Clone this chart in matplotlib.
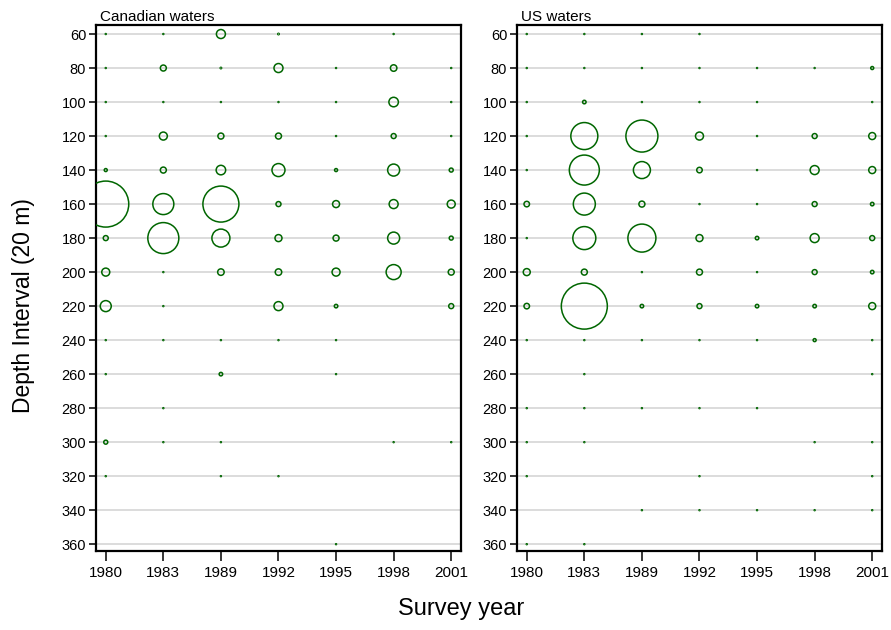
import numpy as np
import matplotlib
matplotlib.use("Agg")
import matplotlib.pyplot as plt

plt.rcParams['font.family'] = ['Liberation Sans', 'DejaVu Sans']

years = ["1980", "1983", "1989", "1992", "1995", "1998", "2001"]
depths = [60, 80, 100, 120, 140, 160, 180, 200, 220, 240, 260, 280, 300, 320, 340, 360]

# bubble diameter index per depth row (rows) and survey (cols), 0 = nothing caught
canada = [
    [1.5, 1.5, 9, 2, 0, 1.5, 0],
    [1.5, 6, 2, 9, 1.5, 6.5, 1.5],
    [1.5, 1.5, 1.5, 1.5, 1.5, 9.5, 1.5],
    [1.5, 8, 6, 6, 1.5, 5, 1.5],
    [3, 6, 9.5, 13, 3, 12, 4],
    [46, 21, 36, 5, 7, 9, 8],
    [5, 31, 18, 7, 6, 12, 4],
    [8, 1.5, 6.5, 6.5, 8, 15, 6],
    [11, 1.5, 0, 9, 3.5, 0, 5],
    [1.5, 1.5, 1.5, 1.5, 1.5, 0, 0],
    [1.5, 0, 3.5, 0, 1.5, 0, 0],
    [0, 1.5, 0, 0, 0, 0, 0],
    [4, 1.5, 1.5, 0, 0, 1.5, 1.5],
    [1.5, 0, 1.5, 1.5, 0, 0, 0],
    [0, 0, 0, 0, 0, 0, 0],
    [0, 0, 0, 0, 1.5, 0, 0],
]

us = [
    [1.5, 1.5, 1.5, 1.5, 0, 0, 0],
    [1.5, 1.5, 1.5, 1.5, 1.5, 1.5, 3],
    [1.5, 3.5, 1.5, 1.5, 1.5, 0, 1.5],
    [1.5, 27, 32, 8, 1.5, 5, 7],
    [1.5, 30, 17, 5.5, 1.5, 9, 7],
    [5.5, 22, 6, 1.5, 1.5, 5, 3.5],
    [1.5, 23, 28, 7, 3.5, 9, 5],
    [7, 6, 1.5, 6, 1.5, 5, 3.5],
    [5.5, 46, 3.5, 5, 3.5, 3.5, 7],
    [1.5, 1.5, 1.5, 1.5, 1.5, 3, 1.5],
    [0, 1.5, 0, 0, 0, 0, 1.5],
    [1.5, 1.5, 1.5, 1.5, 1.5, 0, 0],
    [1.5, 1.5, 0, 0, 0, 1.5, 1.5],
    [1.5, 0, 0, 1.5, 0, 0, 1.5],
    [0, 0, 1.5, 1.5, 1.5, 1.5, 1.5],
    [1.5, 1.5, 0, 0, 0, 0, 0],
]

titles = ["Canadian waters", "US waters"]


def draw_panel(ax, grid, title):
    grid = np.array(grid, dtype=float)
    xi, yi = np.meshgrid(np.arange(len(years)), np.arange(len(depths)))
    d = grid.ravel()
    keep = d > 0
    x = xi.ravel()[keep]
    y = np.array(depths)[yi.ravel()[keep]]
    d = d[keep]
    lw = np.where(d < 3, 0.7, 1.1)
    ax.scatter(x, y, s=(d * 0.72) ** 2, facecolors="none", edgecolors="#006600",
               linewidths=lw, zorder=3)

    for dep in depths:
        ax.axhline(dep, color="#dcdcdc", lw=1.4, zorder=1)

    ax.set_xlim(-0.17, len(years) - 1 + 0.17)
    ax.set_ylim(364, 54.7)
    ax.set_yticks(depths)
    ax.set_xticks(range(len(years)))
    ax.set_xticklabels(years)
    ax.tick_params(axis="both", width=1.1, color="black")
    ax.tick_params(axis="y", length=5, pad=2, labelsize=10.5)
    ax.tick_params(axis="x", length=7, pad=4, labelsize=11)
    for sp in ax.spines.values():
        sp.set_linewidth(1.6)
    ax.set_title(title, loc="left", fontsize=11, pad=3, x=0.01)


fig = plt.figure(figsize=(8.91, 6.30), dpi=100)
ax1 = fig.add_axes([0.1077, 0.1254, 0.4097, 0.8349])
ax2 = fig.add_axes([0.5802, 0.1254, 0.4097, 0.8349])
draw_panel(ax1, canada, titles[0])
draw_panel(ax2, us, titles[1])

fig.text(0.026, 0.515, "Depth Interval (20 m)", rotation=90, ha="center", va="center", fontsize=16.5)
fig.text(0.518, 0.033, "Survey year", ha="center", va="center", fontsize=17)

fig.savefig("out.png", dpi=100)
